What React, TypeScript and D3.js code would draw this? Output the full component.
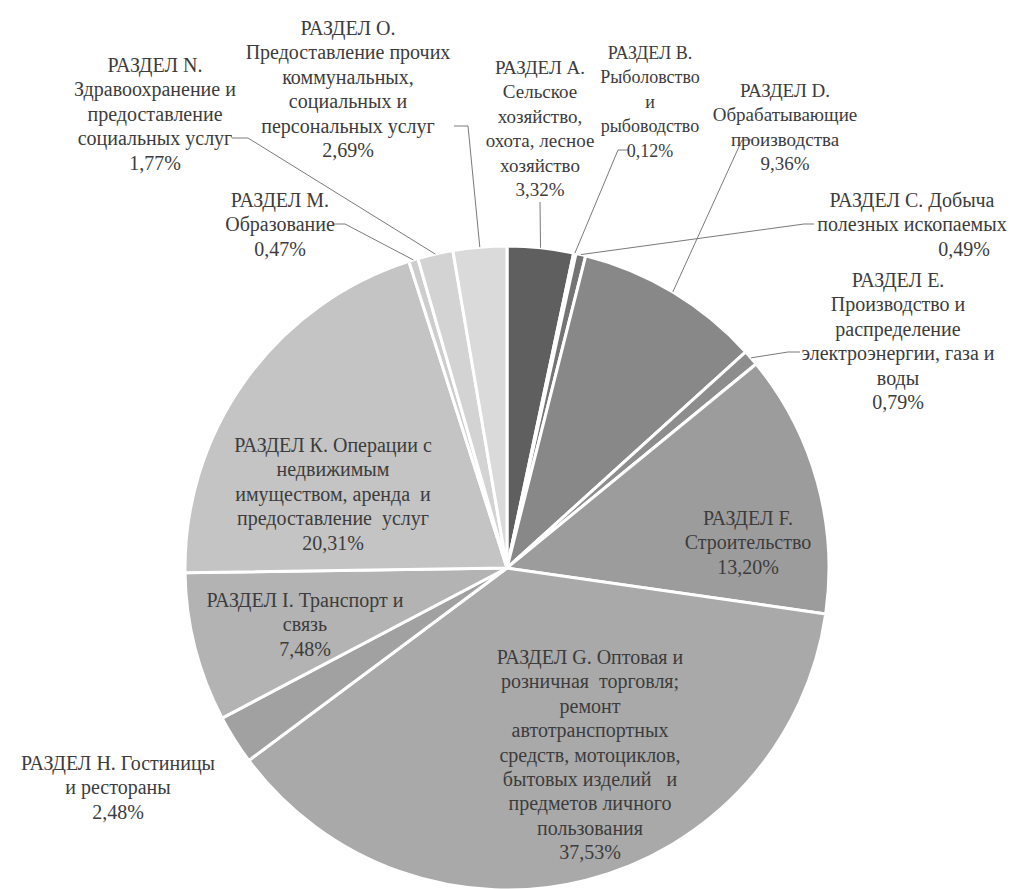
import * as d3 from 'd3';
import React from 'react';

// sections of the economy, clockwise from 12 o'clock
const sections = ['A', 'B', 'C', 'D', 'E', 'F', 'G', 'H', 'I', 'K', 'M', 'N', 'O'];
const shares = [3.32, 0.12, 0.49, 9.36, 0.79, 13.2, 37.53, 2.48, 7.48, 20.31, 0.47, 1.77, 2.69];
const names = [
  ['РАЗДЕЛ А.', 'Сельское', 'хозяйство,', 'охота, лесное', 'хозяйство'],
  ['РАЗДЕЛ В.', 'Рыболовство', 'и', 'рыбоводство'],
  ['РАЗДЕЛ С. Добыча', 'полезных ископаемых'],
  ['РАЗДЕЛ D.', 'Обрабатывающие', 'производства'],
  ['РАЗДЕЛ Е.', 'Производство и', 'распределение', 'электроэнергии, газа и', 'воды'],
  ['РАЗДЕЛ F.', 'Строительство'],
  ['РАЗДЕЛ G. Оптовая и', 'розничная  торговля;', 'ремонт', 'автотранспортных', 'средств, мотоциклов,', 'бытовых изделий   и', 'предметов личного', 'пользования'],
  ['РАЗДЕЛ Н. Гостиницы', 'и рестораны'],
  ['РАЗДЕЛ I. Транспорт и', 'связь'],
  ['РАЗДЕЛ К. Операции с', 'недвижимым', 'имуществом, аренда  и', 'предоставление  услуг'],
  ['РАЗДЕЛ М.', 'Образование'],
  ['РАЗДЕЛ N.', 'Здравоохранение и', 'предоставление', 'социальных услуг'],
  ['РАЗДЕЛ О.', 'Предоставление прочих', 'коммунальных,', 'социальных и', 'персональных услуг'],
];
const greys = ['#5f5f5f', '#6b6b6b', '#747474', '#888888', '#8d8d8d', '#9c9c9c', '#a9a9a9', '#a1a1a1', '#b3b3b3', '#c4c4c4', '#cdcdcd', '#d3d3d3', '#dadada'];

// label placement: centre x, y of first line, font size, optional x of the % line,
// leader start point and elbow (null = no leader)
const layout: any[] = [
  { x: 540, y: 67, fs: 19, from: [540, 202], elbow: null },
  { x: 650, y: 52, fs: 18, from: [628, 150], elbow: [618, 150] },
  { x: 912, y: 200, fs: 20, px: 964, from: [814, 224], elbow: [804, 224] },
  { x: 785, y: 90, fs: 19, from: [752, 140], elbow: [742, 140] },
  { x: 898, y: 280, fs: 20, from: [800, 352], elbow: [788, 352] },
  { x: 748, y: 518, fs: 20, from: null, elbow: null },
  { x: 590, y: 657, fs: 20, from: null, elbow: null },
  { x: 118, y: 763, fs: 20, from: null, elbow: null },
  { x: 305, y: 600, fs: 20, from: null, elbow: null },
  { x: 333, y: 445, fs: 20, from: null, elbow: null },
  { x: 280, y: 200, fs: 20, from: [333, 224], elbow: [345, 224] },
  { x: 155, y: 65, fs: 20, from: [232, 138], elbow: [248, 138] },
  { x: 348, y: 28, fs: 20, from: [454, 126], elbow: [468, 126] },
];

const width = 1019;
const height = 889;
const cx = 507;
const cy = 568;
const R = 322;
const lineH = 24.4;

function App() {
  const pie = d3.pie<number>().sort(null).value((d) => d);
  const arcs = pie(shares);
  const arc = d3.arc<d3.PieArcDatum<number>>().innerRadius(0).outerRadius(R);
  const rim = d3.arc<d3.PieArcDatum<number>>().innerRadius(R).outerRadius(R);
  const fmt = (v: number) => v.toFixed(2).replace('.', ',') + '%';

  return (
    <svg width={width} height={height} style={{ position: 'absolute', left: 0, top: 0, background: '#fff' }}>
      <g transform={`translate(${cx},${cy})`}>
        {arcs.map((a, i) => (
          <path key={sections[i]} d={arc(a) || ''} fill={greys[i]} stroke="#fff" strokeWidth={3} strokeLinejoin="round" />
        ))}
      </g>
      <g fill="none" stroke="#7a7a7a" strokeWidth={1}>
        {arcs.map((a, i) => {
          const l = layout[i];
          if (!l.from) return null;
          const [px, py] = rim.centroid(a);
          const pts = [l.from, ...(l.elbow ? [l.elbow] : []), [cx + px, cy + py]];
          return <path key={sections[i]} d={d3.line()(pts as [number, number][]) || ''} />;
        })}
      </g>
      <g style={{ fontFamily: '"Liberation Serif", "DejaVu Serif", "Times New Roman", serif' }} fill="#3c3c3c" textAnchor="middle">
        {names.map((lines, i) => {
          const l = layout[i];
          const all = [...lines, fmt(shares[i])];
          return (
            <text key={sections[i]} fontSize={l.fs}>
              {all.map((t, j) => (
                <tspan key={j} x={j === all.length - 1 && l.px ? l.px : l.x} y={l.y + j * lineH + 7} style={{ whiteSpace: 'pre' }}>
                  {t}
                </tspan>
              ))}
            </text>
          );
        })}
      </g>
    </svg>
  );
}

export default App;
